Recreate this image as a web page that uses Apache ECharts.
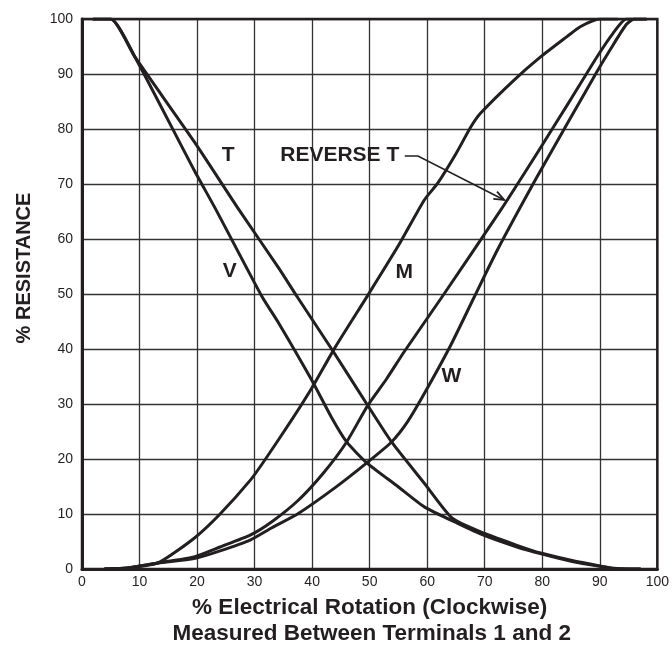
<!DOCTYPE html>
<html><head><meta charset="utf-8">
<script src="https://cdn.jsdelivr.net/npm/echarts/dist/echarts.min.js"></script>
<style>html,body{margin:0;padding:0;background:#fff}#c{width:672px;height:647px}</style>
</head><body><div id="c"></div>
<script>
// ---- data ----
const T_x = [2, 5, 9.2, 19.5, 27.3, 34.2, 37.4, 43.7, 49.5, 53.8, 59.5, 64.3, 69.9, 75.6, 79.7, 85, 89.8, 92.3, 97];
const T_y = [100, 100, 93.1, 77.7, 65.3, 54.7, 49.5, 39.5, 30, 23.1, 15.6, 9.3, 6.5, 4.3, 2.9, 1.6, 0.6, 0.1, 0];

const V_x = [2, 5, 9.2, 19.5, 23.3, 31.3, 34.2, 39.9, 43.4, 46, 49.5, 54.9, 59.5, 65.3, 69.9, 75.6, 80, 85, 90, 93, 97];
const V_y = [100, 100, 93.1, 72.5, 65.3, 49.5, 44.7, 34.4, 27.5, 23.1, 19.3, 15, 11.3, 8.3, 6.1, 4.0, 2.7, 1.4, 0.5, 0.1, 0];

const M_x = [4, 8, 13.2, 19.5, 24, 29.3, 31.9, 36.5, 40, 44, 49.7, 55, 59.5, 61.8, 65, 67.6, 69.3, 75.1, 79.7, 84.3, 86.6, 90, 93];
const M_y = [0, 0.2, 1.1, 5.6, 10, 16.2, 20, 27.2, 33, 40.3, 49.8, 58.8, 67.1, 70.1, 75.5, 80.4, 82.9, 88.9, 93.1, 96.8, 98.6, 100, 100];

const RT_x = [4, 8, 13.2, 19.5, 24, 29.3, 33, 37.6, 42, 46, 49.7, 52.9, 56, 62.6, 72.8, 79.1, 84.9, 89.5, 92.3, 94.6, 98];
const RT_y = [0, 0.2, 1.1, 2.2, 4.0, 6.2, 8.6, 12.5, 17.5, 23.1, 29.8, 34.5, 39.5, 49.5, 65.3, 75.6, 85.3, 93.1, 97.4, 100, 100];

const W_x = [4, 8, 13.2, 19.5, 24, 29.3, 33, 37.6, 44, 49.5, 53.8, 56.6, 59.5, 64, 68.2, 72.2, 79.1, 84.9, 89.5, 91.8, 94.6, 96, 98];
const W_y = [0, 0.2, 1.1, 1.9, 3.3, 5.3, 7.5, 10.1, 14.8, 19.3, 23.1, 26.8, 31.9, 40.5, 49.5, 58, 71.3, 82, 90.4, 94.4, 99, 100, 100];

const curveNames = ['T', 'V', 'M', 'REVERSE T', 'W'];
const curveXs = [T_x, V_x, M_x, RT_x, W_x];
const curveYs = [T_y, V_y, M_y, RT_y, W_y];

// annotations (data coordinates)
const labelText = ['T', 'V', 'M', 'W', 'REVERSE T'];
const labelX = [25.4, 25.7, 56, 64.2, 44.8];
const labelY = [75.3, 54.1, 54, 35, 75.3];
const leaderX = [56.1, 58.4, 73.4];
const leaderY = [75.1, 75.1, 67.1];

const yTitle = '% RESISTANCE';
const xTitle1 = '% Electrical Rotation (Clockwise)';
const xTitle2 = 'Measured Between Terminals 1 and 2';

// ---- chart ----
const INK = '#231f20';
const chart = echarts.init(document.getElementById('c'), null, {renderer: 'canvas'});

const series = curveNames.map((n, k) => ({
  type: 'line', name: n,
  data: curveXs[k].map((x, i) => [x, curveYs[k][i]]),
  symbol: 'none', smooth: 0.2,
  lineStyle: {color: INK, width: 3, join: 'round', cap: 'round'},
  clip: true, z: 3
}));

chart.setOption({
  animation: false,
  backgroundColor: '#fff',
  grid: {left: 82, right: 11, top: 19, bottom: 78, show: true, borderColor: INK, borderWidth: 2.5, containLabel: false, z: 4},
  xAxis: {
    type: 'value', min: 0, max: 100, interval: 10,
    axisLine: {show: true, lineStyle: {color: INK, width: 3}},
    axisTick: {show: false},
    axisLabel: {color: INK, fontFamily: 'Liberation Sans', fontSize: 14, margin: 6},
    splitLine: {show: true, lineStyle: {color: '#333', width: 1.3}}
  },
  yAxis: {
    type: 'value', min: 0, max: 100, interval: 10,
    axisLine: {show: true, lineStyle: {color: INK, width: 3}},
    axisTick: {show: false},
    axisLabel: {color: INK, fontFamily: 'Liberation Sans', fontSize: 14, margin: 9},
    splitLine: {show: true, lineStyle: {color: '#333', width: 1.3}}
  },
  series: series
});

const px = (x, y) => chart.convertToPixel({gridIndex: 0}, [x, y]);
const graphics = [];
labelText.forEach((t, i) => {
  const p = px(labelX[i], labelY[i]);
  graphics.push({type: 'text', x: p[0], y: p[1], z: 10,
    style: {text: t, fill: INK, font: 'bold 21px "Liberation Sans"', textAlign: 'center', textVerticalAlign: 'middle'}});
});
const lp = leaderX.map((x, i) => px(x, leaderY[i]));
graphics.push({type: 'polyline', z: 10, shape: {points: lp}, style: {stroke: INK, lineWidth: 1.6, fill: null}});
// arrow head
const a = lp[lp.length - 1], b = lp[lp.length - 2];
const ang = Math.atan2(a[1] - b[1], a[0] - b[0]);
const hl = 11, spread = 0.38;
graphics.push({type: 'polyline', z: 10, shape: {points: [
  [a[0] - hl * Math.cos(ang - spread), a[1] - hl * Math.sin(ang - spread)], a,
  [a[0] - hl * Math.cos(ang + spread), a[1] - hl * Math.sin(ang + spread)]]},
  style: {stroke: INK, lineWidth: 1.8, fill: null}});
// axis titles
const gTop = px(0, 100), gBot = px(0, 0);
const ymid = (gTop[1] + gBot[1]) / 2;
graphics.push({type: 'text', x: 24.5, y: ymid - 26, rotation: Math.PI / 2, z: 10,
  style: {text: yTitle, fill: INK, font: 'bold 20px "Liberation Sans"', textAlign: 'center', textVerticalAlign: 'middle'}});
const xmid = (px(0, 0)[0] + px(100, 0)[0]) / 2;
graphics.push({type: 'text', x: xmid, y: 608, z: 10,
  style: {text: xTitle1, fill: INK, font: 'bold 22.5px "Liberation Sans"', textAlign: 'center', textVerticalAlign: 'middle'}});
graphics.push({type: 'text', x: xmid + 2, y: 634, z: 10,
  style: {text: xTitle2, fill: INK, font: 'bold 22.5px "Liberation Sans"', textAlign: 'center', textVerticalAlign: 'middle'}});
chart.setOption({graphic: graphics});
</script>
</body></html>
